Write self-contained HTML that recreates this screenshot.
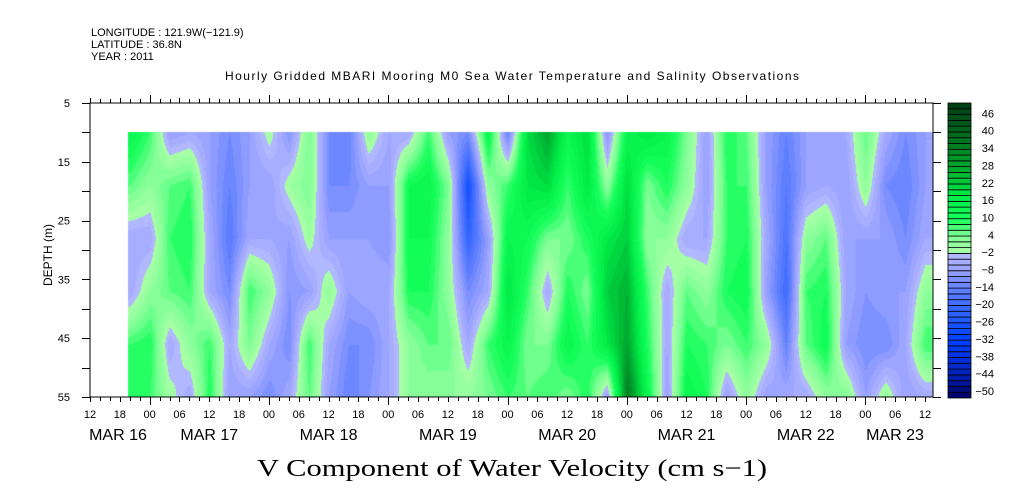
<!DOCTYPE html>
<html><head><meta charset="utf-8"><style>
html,body{margin:0;padding:0;background:#fff;width:1009px;height:504px;overflow:hidden}
#wrap{position:relative;width:1009px;height:504px}
canvas,svg{position:absolute;left:0;top:0}
text{font-family:"Liberation Sans",sans-serif;fill:#000}
</style></head><body>
<div id="wrap">
<canvas id="cv" width="1009" height="504"></canvas>
<svg id="sv" width="1009" height="504" xmlns="http://www.w3.org/2000/svg">
<text x="91" y="36" font-size="11">LONGITUDE : 121.9W(−121.9)</text>
<text x="91" y="48" font-size="11">LATITUDE : 36.8N</text>
<text x="91" y="60" font-size="11">YEAR : 2011</text>
<text x="512" y="80" font-size="12" text-anchor="middle" textLength="574">Hourly Gridded MBARI Mooring M0 Sea Water Temperature and Salinity Observations</text>
<text x="0" y="0" font-size="12" text-anchor="middle" transform="translate(52,255) rotate(-90)">DEPTH (m)</text>
<text x="512" y="476" font-size="24" text-anchor="middle" textLength="510" lengthAdjust="spacingAndGlyphs" style="font-family:'Liberation Serif',serif">V Component of Water Velocity (cm s−1)</text>
<g id="axes"></g>
<g id="cbar"></g>
</svg>
</div>
<script>
// ---- data ----
// hours since MAR 16 12:00 for each column
const times = [8,12,16,20,24,28,32,36,40,44,48,52,56,60,64,68,72,76,80,84,88,92,96,100,104,108,112,116,120,124,128,132,136,140,144,148,152,156,160,164,168];
const depths = [10,19,28,37,46,55];
// values[column] = velocity (cm/s) at each depth
const values = [
[16,8,-4,-4,10,12],[10,4,-4,4,12,10],[-6,8,10,8,-4,2],[-4,10,12,10,4,-4],
[-6,-6,-4,-4,10,12],[-10,-12,-14,-10,-4,-6],[-6,-6,-4,10,6,-6],[2,-6,-4,4,-4,-10],
[-8,2,-6,-8,-10,-4],[6,6,2,-6,10,8],[-10,-10,-6,4,-4,-6],[-12,-10,-6,-6,-10,-12],
[4,-6,-6,-4,-10,-8],[-4,-6,-8,-4,-4,-4],
[-4,14,14,12,4,4],[10,16,14,12,8,4],[-6,6,4,4,8,4],[-10,-26,-20,-10,-4,4],
[16,4,-6,-4,10,6],[-12,10,16,20,16,10],[22,20,14,10,6,8],[30,22,6,-4,6,10],
[16,10,6,12,16,6],[22,20,12,6,10,12],[-8,4,20,24,20,-6],[16,22,24,28,30,38],
[20,6,4,10,12,16],[16,12,4,-4,-4,-6],
[6,4,-4,8,12,16],[-6,-6,-4,4,10,12],[12,10,10,12,6,-6],[8,10,12,14,10,4],
[-6,-6,-4,-6,4,-6],[-12,-14,-16,-18,-12,-4],[-6,-6,4,10,8,-4],[-6,-4,8,12,14,4],
[-4,-6,-6,-4,-6,6],[8,4,-6,-8,-10,-6],[-4,-10,-6,-6,-10,4],[-10,-12,-10,-6,-4,-6],
[-6,-6,-4,4,10,-4]
];
const cbLevels = [-50,-44,-38,-32,-26,-20,-14,-8,-2,4,10,16,22,28,34,40,46];
const depthTicks = [5,15,25,35,45,55];
const hourLabels = ["12","18","00","06","12","18","00","06","12","18","00","06","12","18","00","06","12","18","00","06","12","18","00","06","12","18","00","06","12"];
const dayLabels = ["MAR 16","MAR 17","MAR 18","MAR 19","MAR 20","MAR 21","MAR 22","MAR 23"];

// ---- scales ----
const X0=90,X1=933,Y0=103,Y1=397,HMAX=169.6;
const xs=h=>X0+(h)*(X1-X0)/HMAX;
const ys=d=>Y0+(d-5)*(Y1-Y0)/50;
const stops=[[-50,[0,0,100]],[-40,[0,40,200]],[-30,[0,64,255]],[-20,[48,100,255]],[-12,[100,130,255]],[-6,[150,160,255]],[-1,[178,184,255]],[1,[165,255,165]],[6,[128,255,150]],[12,[20,255,90]],[20,[0,235,70]],[30,[0,165,45]],[40,[0,110,30]],[52,[0,60,20]]];
function col(v){
  let q=Math.floor(v/2)*2+1; q=Math.max(-49,Math.min(51,q));
  for(let i=0;i<stops.length-1;i++){const a=stops[i],b=stops[i+1];
    if(q<=b[0]){const t=(q-a[0])/(b[0]-a[0]);return a[1].map((c,k)=>Math.round(c+(b[1][k]-c)*t));}}
  return stops[stops.length-1][1];
}
// ---- heatmap ----
const cv=document.getElementById('cv');const ctx=cv.getContext('2d');
const xa=Math.round(xs(times[0]-0.4)), xb=X1, ya=Math.round(ys(depths[0])), yb=Y1;
const img=ctx.createImageData(xb-xa,yb-ya);
function interp(h,d){
  let i=0;while(i<times.length-2&&h>times[i+1])i++;
  let tx=(h-times[i])/(times[i+1]-times[i]);tx=Math.max(0,Math.min(1,tx));
  let j=0;while(j<depths.length-2&&d>depths[j+1])j++;
  let ty=(d-depths[j])/(depths[j+1]-depths[j]);ty=Math.max(0,Math.min(1,ty));
  const a=values[i][j],b=values[i+1][j],c=values[i][j+1],e=values[i+1][j+1];
  return (a*(1-tx)+b*tx)*(1-ty)+(c*(1-tx)+e*tx)*ty;
}
for(let px=xa;px<xb;px++){
  const h=(px-X0)*HMAX/(X1-X0);
  for(let py=ya;py<yb;py++){
    const d=5+(py-Y0)*50/(Y1-Y0);
    const c=col(interp(h,d));
    const k=((py-ya)*(xb-xa)+(px-xa))*4;
    img.data[k]=c[0];img.data[k+1]=c[1];img.data[k+2]=c[2];img.data[k+3]=255;
  }
}
ctx.putImageData(img,xa,ya);

// ---- axes ----
const NS='http://www.w3.org/2000/svg';
const ax=document.getElementById('axes');
function el(tag,attrs,parent){const e=document.createElementNS(NS,tag);for(const k in attrs)e.setAttribute(k,attrs[k]);(parent||ax).appendChild(e);return e;}
let frame=el('rect',{x:X0,y:Y0,width:X1-X0,height:Y1-Y0,fill:'none',stroke:'#000','stroke-width':1});


for(let h=0;h<=HMAX;h+=2){
  const x=Math.round(xs(h))+0.5;
  const abs=h+12; const major=abs%24===0; const mid=abs%6===0;
  const L=major?8:(mid?5:4);
  let t1=el('line',{x1:x,y1:Y1,x2:x,y2:Y1+L,stroke:'#000'});
  
  
  let t2=el('line',{x1:x,y1:Y0,x2:x,y2:Y0-L,stroke:'#000'});
  
  
}
hourLabels.forEach((s,i)=>{
  if(i*6>HMAX)return;
  let t=el('text',{x:xs(i*6),y:418,'font-size':11,'text-anchor':'middle'});t.textContent=s;
  
  
});
dayLabels.forEach((s,i)=>{
  let x=xs(i*24); if(i===0)x=X0+28; if(x>X1-40)x=X1-38;
  let t=el('text',{x:x,y:440,'font-size':16,'text-anchor':'middle'});t.textContent=s;
  
  
});
for(let d=5;d<=55;d+=5){
  const y=Math.round(ys(d))+0.5;
  let t=el('line',{x1:X0-8,y1:y,x2:X0,y2:y,stroke:'#000'});
  
  
  let r=el('line',{x1:X1,y1:y,x2:X1+8,y2:y,stroke:'#000'});
  
  
}
depthTicks.forEach(d=>{
  let t=el('text',{x:70,y:ys(d)+4,'font-size':11,'text-anchor':'end'});t.textContent=d;
  
  
});
// ---- colorbar ----
const cb=document.getElementById('cbar');
const CX=948,CW=23,CY0=103,CY1=398,N=51,bh=(CY1-CY0)/N;
for(let i=0;i<N;i++){
  const v=-50+i*2;const c=col(v+1);
  let r=el('rect',{x:CX,y:CY1-(i+1)*bh,width:CW,height:bh,fill:`rgb(${c[0]},${c[1]},${c[2]})`,stroke:'#000','stroke-width':0.8},cb);
  
  
}
cbLevels.forEach(v=>{
  const y=CY1-((v+50)/2)*bh;
  let t=el('text',{x:994,y:y-3,'font-size':11,'text-anchor':'end'},cb);t.textContent=String(v).replace('-','−');
  
  
});
</script>
</body></html>
